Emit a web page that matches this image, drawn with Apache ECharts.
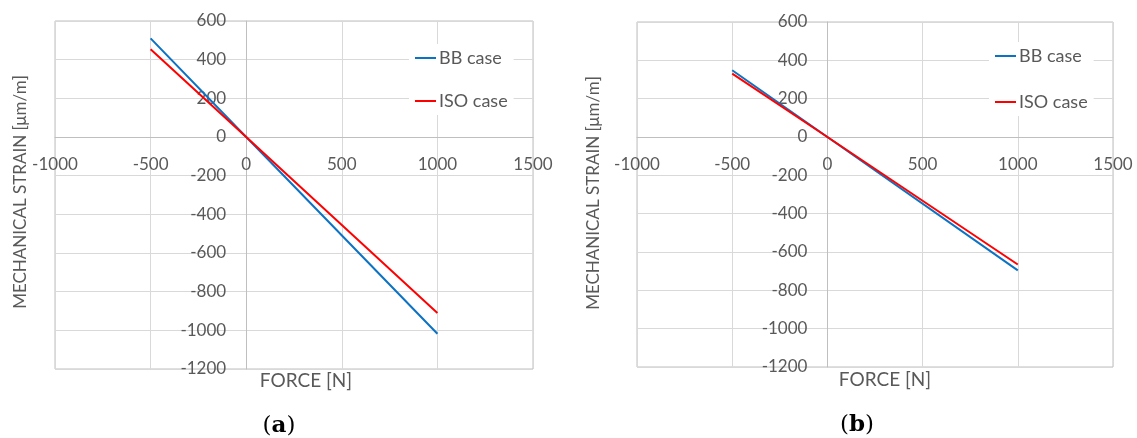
<!DOCTYPE html>
<html>
<head>
<meta charset="utf-8">
<script src="https://cdn.jsdelivr.net/npm/echarts@6/dist/echarts.min.js"></script>
<style>
html,body{margin:0;padding:0;background:#fff;}
#chart{width:1137px;height:438px;}
</style>
</head>
<body>
<div id="chart"></div>
<script>
// ---- data ----
const forceA = [-500, 0, 1000];
const bbA = [510, 0, -1018];
const isoA = [454, 0, -910];
const forceB = [-500, 0, 1000];
const bbB = [348, 0, -696];
const isoB = [331, 0, -665];
const xTicks = [-1000, -500, 0, 500, 1000, 1500];
const yTicks = [-1200, -1000, -800, -600, -400, -200, 0, 200, 400, 600];
const seriesNames = ['BB case', 'ISO case'];
const panelLabels = ['a', 'b'];

const FONT = 'Lato';
const TXT = '#595959';
const COLORS = ['#0B72C4', '#FF0000'];

function pairs(xs, ys) { return xs.map((x, i) => [x, ys[i]]); }

const grids = [
  { left: 55, top: 21, width: 478, height: 348 },
  { left: 637, top: 22, width: 476, height: 345 }
];

const xMin = xTicks[0], xMax = xTicks[xTicks.length - 1];
const yMin = yTicks[0], yMax = yTicks[yTicks.length - 1];

function xAxis(gi) {
  const g = grids[gi];
  // place the axis where y = 0 (Excel style crossing)
  const off = -g.height * (0 - yMin) / (yMax - yMin);
  return {
    type: 'value', gridIndex: gi, position: 'bottom', offset: off,
    min: xMin, max: xMax, interval: 500,
    axisLine: { show: true, onZero: false, lineStyle: { color: '#BFBFBF', width: 1 } },
    axisTick: { show: false },
    axisLabel: { color: TXT, fontFamily: FONT, fontSize: 17, margin: 19, showMinLabel: true, showMaxLabel: true, formatter: v => String(v) },
    splitLine: { show: true, lineStyle: { color: '#D9D9D9', width: 1 } }
  };
}
function yAxis(gi) {
  const g = grids[gi];
  const off = -g.width * (0 - xMin) / (xMax - xMin);
  return {
    type: 'value', gridIndex: gi, position: 'left', offset: off,
    min: yMin, max: yMax, interval: 200,
    axisLine: { show: true, onZero: false, lineStyle: { color: '#BFBFBF', width: 1 } },
    axisTick: { show: false },
    axisLabel: { color: TXT, fontFamily: FONT, fontSize: 17, margin: 20, showMinLabel: true, showMaxLabel: true, formatter: v => String(v) },
    splitLine: { show: true, lineStyle: { color: '#D9D9D9', width: 1 } }
  };
}
function line(name, data, color, gi) {
  return {
    type: 'line', name: name, xAxisIndex: gi, yAxisIndex: gi,
    data: data, showSymbol: false, symbol: 'none',
    lineStyle: { color: color, width: 2 }, itemStyle: { color: color },
    animation: false, z: 3
  };
}
function legend(left, top, gap) {
  return {
    data: seriesNames, orient: 'vertical', left: left, top: top,
    icon: 'rect', itemWidth: 21, itemHeight: 2, itemGap: gap,
    backgroundColor: '#fff', padding: [4, 6, 4, 6],
    textStyle: { color: TXT, fontFamily: FONT, fontSize: 18, lineHeight: 20, padding: [0, 0, 0, -2] },
    selectedMode: false
  };
}
function txt(x, y, text, rot, size) {
  return {
    type: 'text', x: x, y: y, rotation: rot || 0, z: 10,
    style: { text: text, fill: TXT, font: (size || 18) + 'px ' + FONT, textAlign: 'center', textVerticalAlign: 'middle' }
  };
}
function caption(x, y, letter) {
  return {
    type: 'text', x: x, y: y, z: 10,
    style: {
      text: '(' + '{b|' + letter + '})', fill: '#000',
      font: '23px "DejaVu Serif", "Liberation Serif", serif',
      rich: { b: { fontWeight: 'bold', fontSize: 23, fontFamily: '"DejaVu Serif", serif', fill: '#000' } },
      textAlign: 'center', textVerticalAlign: 'middle'
    }
  };
}

const chart = echarts.init(document.getElementById('chart'), null, { renderer: 'canvas' });
chart.setOption({
  animation: false,
  backgroundColor: '#fff',
  grid: grids.map(g => Object.assign({ show: true, borderColor: '#BFBFBF', borderWidth: 1, backgroundColor: 'transparent' }, g)),
  xAxis: [xAxis(0), xAxis(1)],
  yAxis: [yAxis(0), yAxis(1)],
  legend: [legend(409, 44, 23), legend(989, 42, 26)],
  series: [
    line(seriesNames[0], pairs(forceA, bbA), COLORS[0], 0),
    line(seriesNames[1], pairs(forceA, isoA), COLORS[1], 0),
    line(seriesNames[0], pairs(forceB, bbB), COLORS[0], 1),
    line(seriesNames[1], pairs(forceB, isoB), COLORS[1], 1)
  ],
  graphic: [
    txt(21, 192, 'MECHANICAL STRAIN [μm/m]', Math.PI / 2, 17),
    txt(594, 193, 'MECHANICAL STRAIN [μm/m]', Math.PI / 2, 17),
    txt(306, 381, 'FORCE [N]', 0, 19),
    txt(885, 380, 'FORCE [N]', 0, 19),
    caption(279, 426, panelLabels[0]),
    caption(857, 425, panelLabels[1])
  ]
});
</script>
</body>
</html>
